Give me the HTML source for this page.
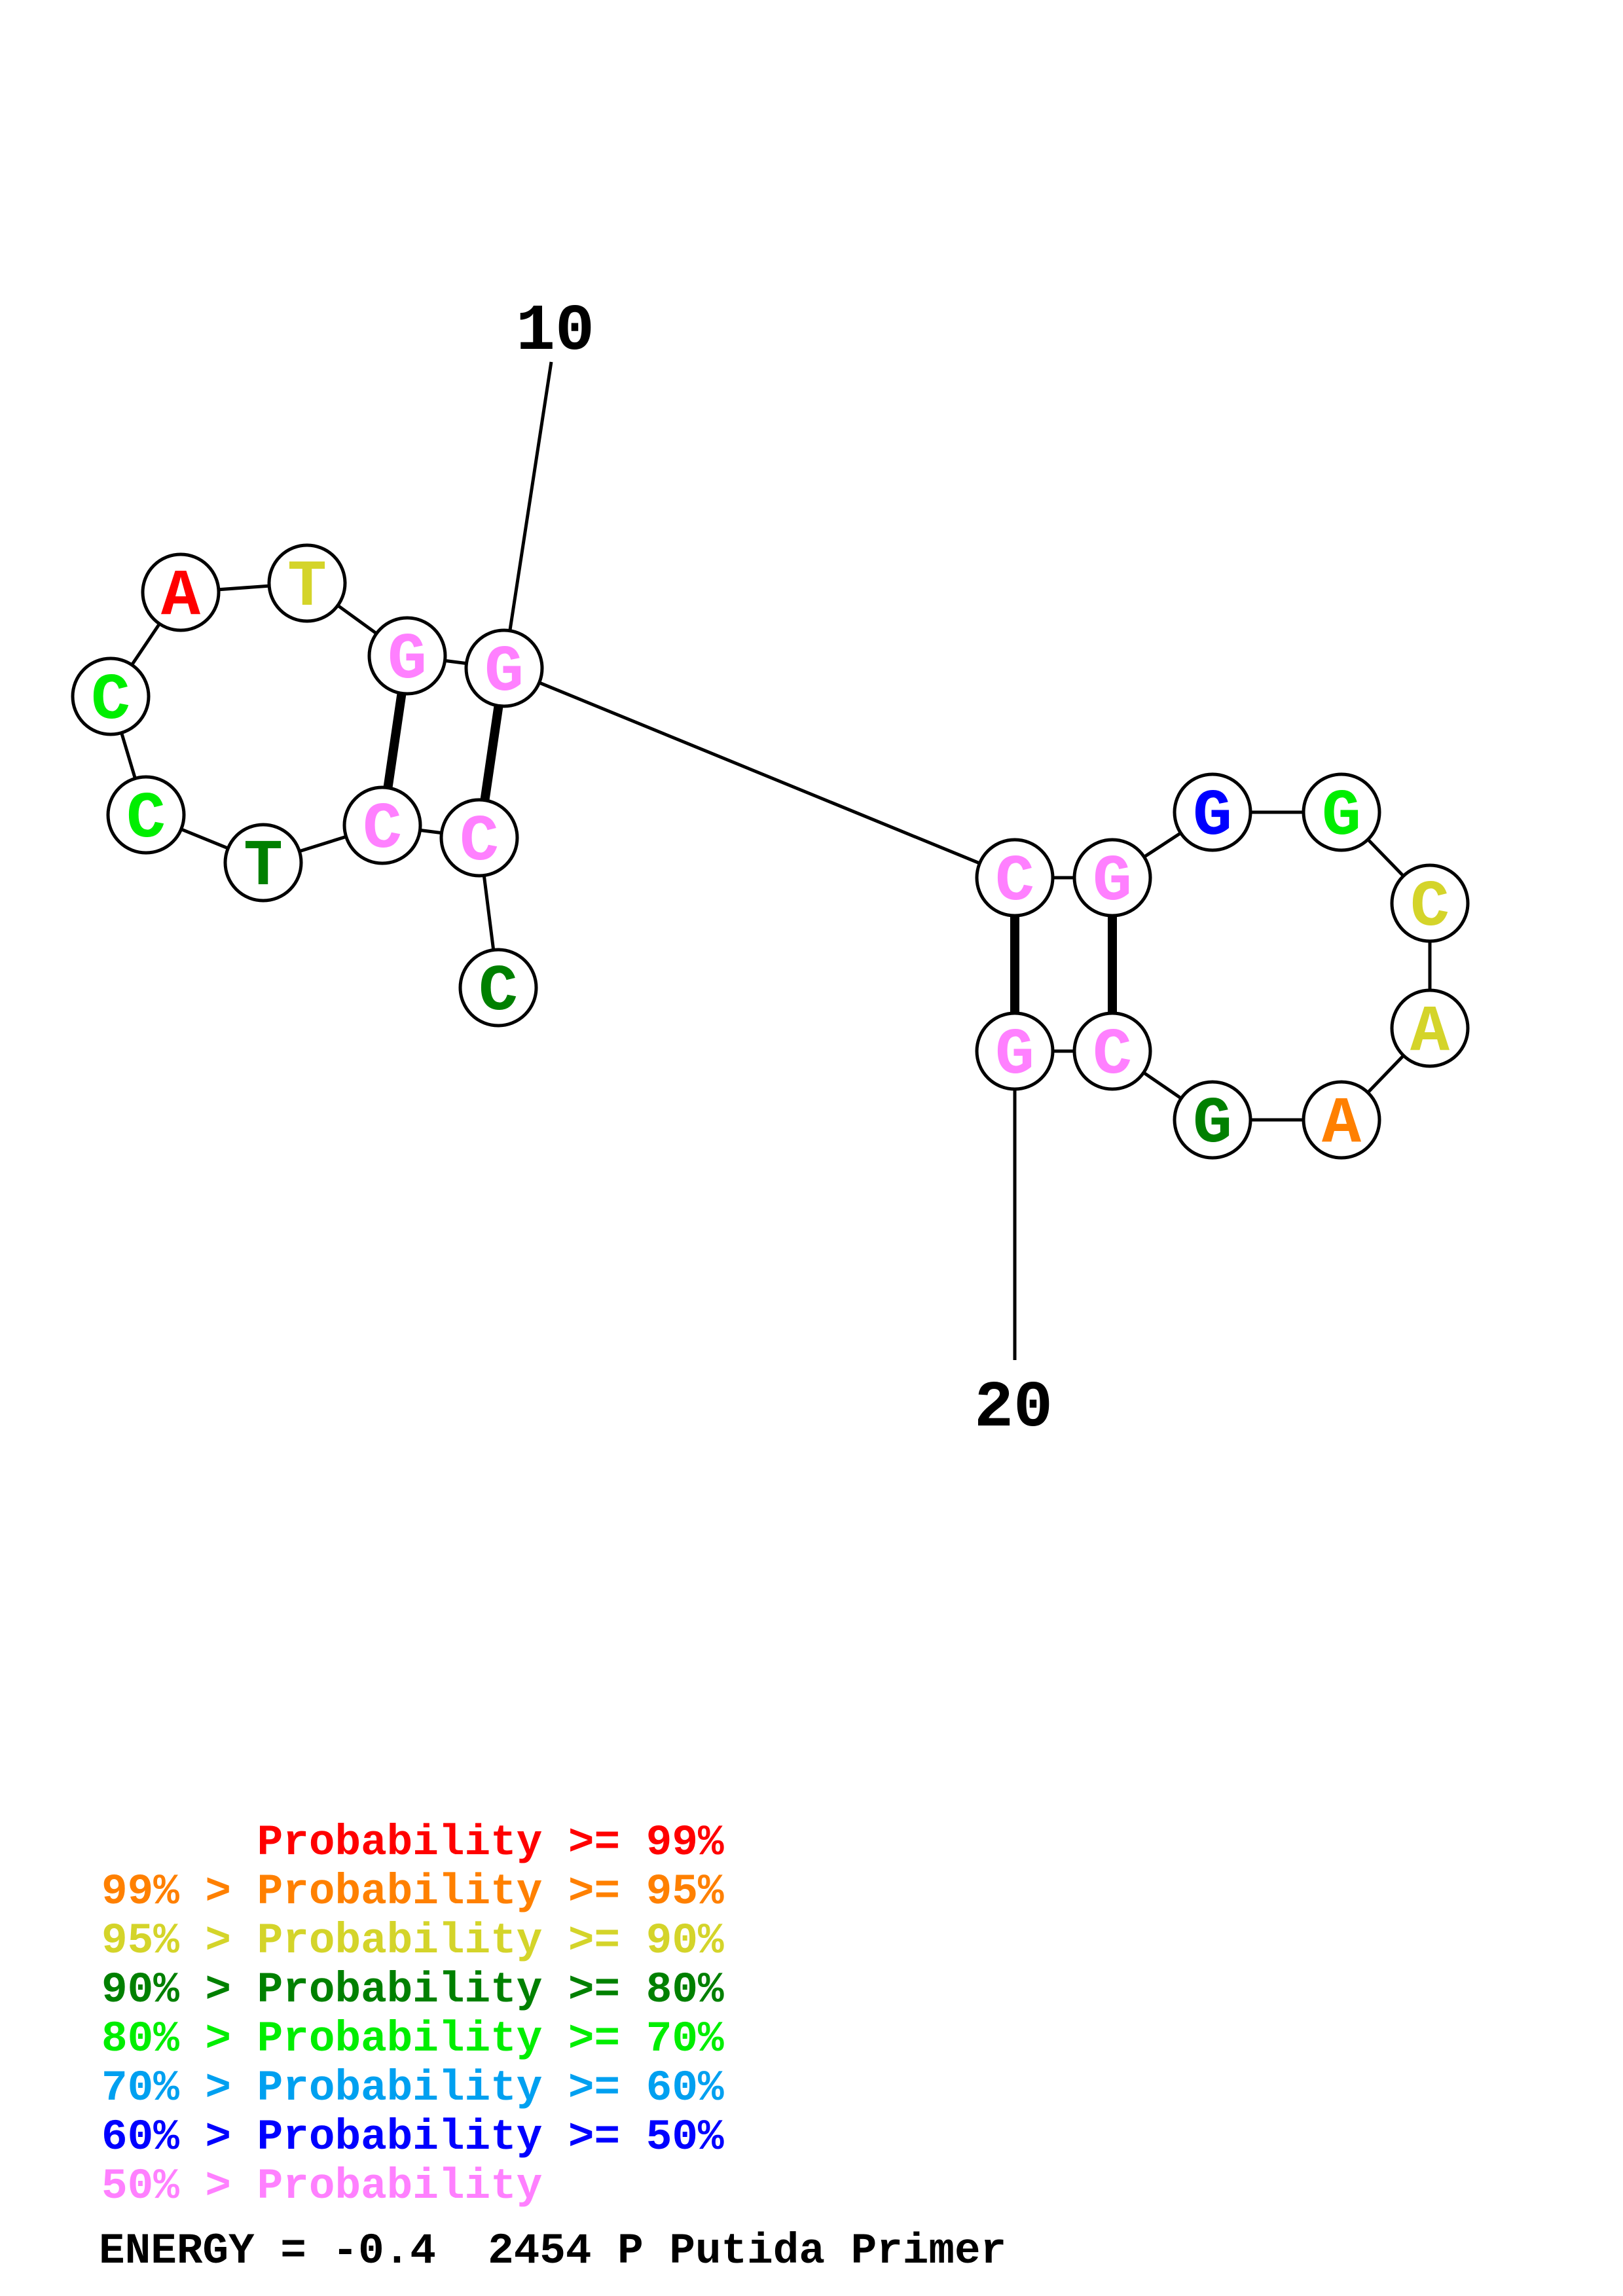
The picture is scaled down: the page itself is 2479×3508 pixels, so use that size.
<!DOCTYPE html>
<html><head><meta charset="utf-8"><style>
html,body{margin:0;padding:0;background:#fff;}
svg{display:block;}
text{font-family:"Liberation Mono",monospace;font-weight:bold;white-space:pre;}
</style></head><body>
<svg width="2479" height="3508" viewBox="0 0 2479 3508" xmlns="http://www.w3.org/2000/svg">
<rect width="2479" height="3508" fill="#fff"/>
<g stroke="#000" stroke-width="5" fill="none">
<polyline points="761,1509 732,1280 584,1261 402,1318 223,1245 169,1064 276,905 469,891 622,1002 770,1021 1550,1341 1699,1341 1852,1241 2049,1241 2184,1380 2184,1571 2049,1711 1852,1711 1699,1606 1550,1606 1550,2078"/>
<line x1="770" y1="1021" x2="842" y2="553"/>
</g>
<g stroke="#000" stroke-width="14">
<line x1="622" y1="1002" x2="584" y2="1261"/>
<line x1="770" y1="1021" x2="732" y2="1280"/>
<line x1="1550" y1="1341" x2="1550" y2="1606"/>
<line x1="1699" y1="1341" x2="1699" y2="1606"/>
</g>
<g stroke="#000" stroke-width="5" fill="#fff">
<circle cx="276" cy="905" r="58"/><circle cx="469" cy="891" r="58"/>
<circle cx="622" cy="1002" r="58"/><circle cx="770" cy="1021" r="58"/>
<circle cx="169" cy="1064" r="58"/><circle cx="223" cy="1245" r="58"/>
<circle cx="402" cy="1318" r="58"/><circle cx="584" cy="1261" r="58"/>
<circle cx="732" cy="1280" r="58"/><circle cx="761" cy="1509" r="58"/>
<circle cx="1550" cy="1341" r="58"/><circle cx="1699" cy="1341" r="58"/>
<circle cx="1852" cy="1241" r="58"/><circle cx="2049" cy="1241" r="58"/>
<circle cx="2184" cy="1380" r="58"/><circle cx="2184" cy="1571" r="58"/>
<circle cx="2049" cy="1711" r="58"/><circle cx="1852" cy="1711" r="58"/>
<circle cx="1699" cy="1606" r="58"/><circle cx="1550" cy="1606" r="58"/>
</g>
<g font-size="100" text-anchor="middle">
<text x="276" y="938" fill="#ff0000">A</text>
<text x="469" y="924" fill="#d4d42a">T</text>
<text x="622" y="1035" fill="#ff80ff">G</text>
<text x="770" y="1054" fill="#ff80ff">G</text>
<text x="169" y="1097" fill="#00ee00">C</text>
<text x="223" y="1278" fill="#00ee00">C</text>
<text x="402" y="1351" fill="#008000">T</text>
<text x="584" y="1294" fill="#ff80ff">C</text>
<text x="732" y="1313" fill="#ff80ff">C</text>
<text x="761" y="1542" fill="#008000">C</text>
<text x="1550" y="1374" fill="#ff80ff">C</text>
<text x="1699" y="1374" fill="#ff80ff">G</text>
<text x="1852" y="1274" fill="#0000ff">G</text>
<text x="2049" y="1274" fill="#00ee00">G</text>
<text x="2184" y="1413" fill="#d4d42a">C</text>
<text x="2184" y="1604" fill="#d4d42a">A</text>
<text x="2049" y="1744" fill="#ff8000">A</text>
<text x="1852" y="1744" fill="#008000">G</text>
<text x="1699" y="1639" fill="#ff80ff">C</text>
<text x="1550" y="1639" fill="#ff80ff">G</text>
</g>
<g font-size="100" text-anchor="middle" fill="#000">
<text x="848" y="533">10</text>
<text x="1548" y="2178">20</text>
</g>
<g font-size="66">
<text x="155" y="2833" fill="#ff0000">      Probability &gt;= 99%</text>
<text x="155" y="2908" fill="#ff8000">99% &gt; Probability &gt;= 95%</text>
<text x="155" y="2983" fill="#d4d42a">95% &gt; Probability &gt;= 90%</text>
<text x="155" y="3058" fill="#008000">90% &gt; Probability &gt;= 80%</text>
<text x="155" y="3133" fill="#00ee00">80% &gt; Probability &gt;= 70%</text>
<text x="155" y="3208" fill="#00a0f0">70% &gt; Probability &gt;= 60%</text>
<text x="155" y="3283" fill="#0000ff">60% &gt; Probability &gt;= 50%</text>
<text x="155" y="3358" fill="#ff80ff">50% &gt; Probability</text>
<text x="151" y="3457" fill="#000">ENERGY = -0.4  2454 P Putida Primer</text>
</g>
</svg>
</body></html>
